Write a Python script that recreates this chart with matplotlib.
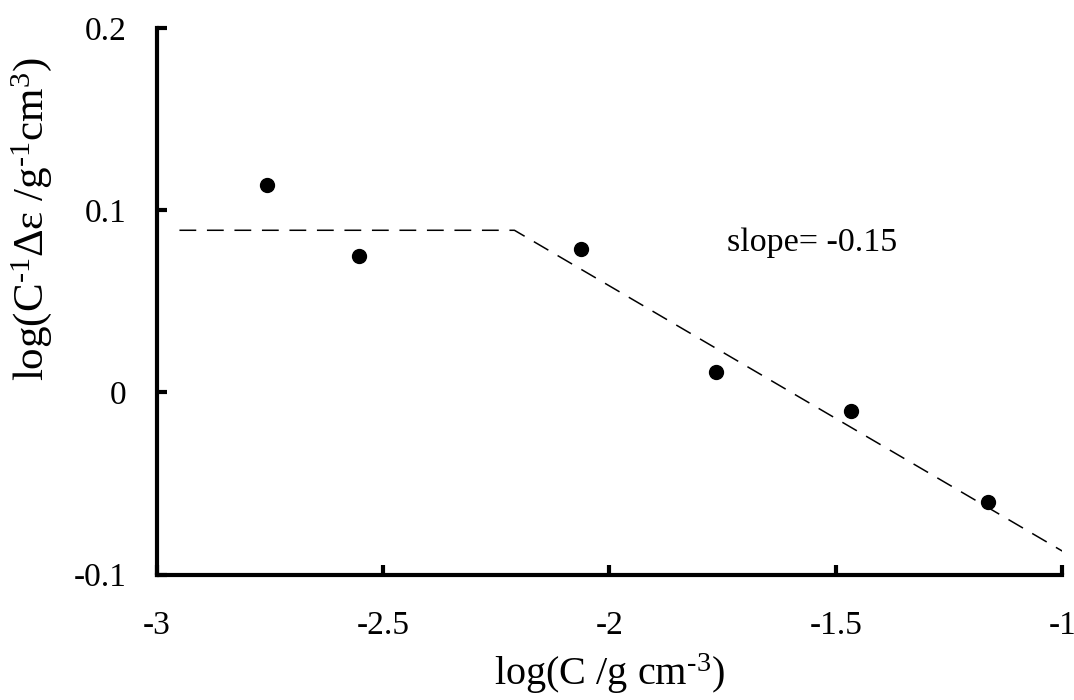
import numpy as np
import matplotlib.pyplot as plt

plt.rcParams['font.family'] = ['Liberation Serif', 'DejaVu Serif']
plt.rcParams['mathtext.fontset'] = 'custom'
plt.rcParams['mathtext.rm'] = 'Liberation Serif'
plt.rcParams['mathtext.it'] = 'Liberation Serif:italic'

# measured points
log_c = [-2.757, -2.554, -2.063, -1.765, -1.466, -1.164]
log_ratio = [0.114, 0.075, 0.079, 0.011, -0.010, -0.060]

# dashed guide: flat part then slope -0.15
guide_x = [-2.95, -2.21, -1.0]
guide_y = [0.089, 0.089, -0.087]

xticks = [-3, -2.5, -2, -1.5, -1]
xtick_labels = ['-3', '-2.5', '-2', '-1.5', '-1']
yticks = [-0.1, 0, 0.1, 0.2]
ytick_labels = ['-0.1', '0', '0.1', '0.2']

fig = plt.figure(figsize=(10.74, 7), dpi=100)
ax = fig.add_axes([0.146, 0.179, 0.843, 0.781])

ax.plot(guide_x, guide_y, color='black', lw=1.1, dashes=(11, 7))
ax.plot(log_c, log_ratio, 'o', color='black', ms=10)

ax.text(-1.74, 0.082, 'slope= -0.15', fontsize=24.5, va='center')

ax.set_xlim(-3, -1)
ax.set_ylim(-0.1, 0.2)
ax.set_xticks(xticks)
ax.set_xticklabels(xtick_labels)
ax.set_yticks(yticks)
ax.set_yticklabels(ytick_labels)

for side in ['top', 'right']:
    ax.spines[side].set_visible(False)
for side in ['left', 'bottom']:
    ax.spines[side].set_linewidth(3)

ax.tick_params(axis='both', direction='in', length=7, width=3, labelsize=24)
ax.tick_params(axis='x', pad=26)
ax.tick_params(axis='y', pad=22)

ax.set_xlabel(r'log(C /g cm$^{\text{-3}}$)', fontsize=29)
ax.xaxis.set_label_coords(0.5, -0.14)
ax.set_ylabel(r'log(C$^{\text{-1}}$$\Delta$ε /g$^{\text{-1}}$cm$^{\text{3}}$)', fontsize=31)
ax.yaxis.set_label_coords(-0.113, 0.65)

fig.savefig('out.png', dpi=100)
